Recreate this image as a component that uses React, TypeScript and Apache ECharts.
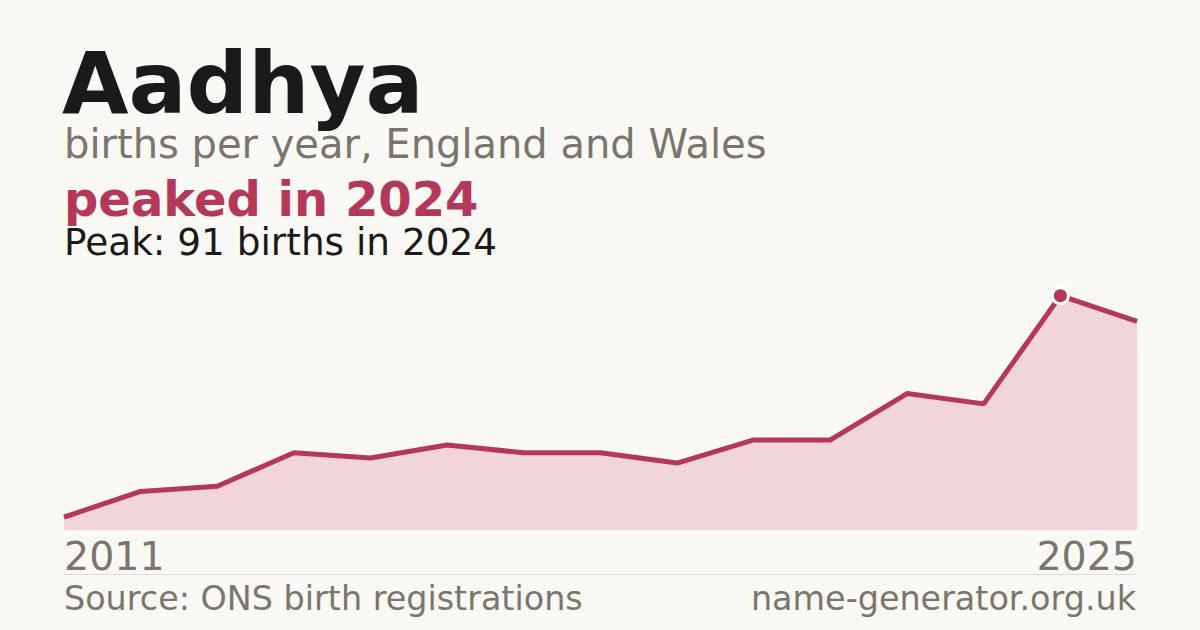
import React, { useEffect, useRef } from 'react';
import * as echarts from 'echarts';

const years = ['2011', '2012', '2013', '2014', '2015', '2016', '2017', '2018', '2019', '2020', '2021', '2022', '2023', '2024', '2025'];
const births = [5, 15, 17, 30, 28, 33, 30, 30, 26, 35, 35, 53, 49, 91, 81];

const FONT = '"DejaVu Sans", sans-serif';
const ACCENT = '#b3385a';
const MUTED = '#7a756f';

const App: React.FC = () => {
  const chartRef = useRef<HTMLDivElement>(null);

  useEffect(() => {
    document.body.style.margin = '0';
    if (!chartRef.current) return;

    const chart = echarts.init(chartRef.current, undefined, { renderer: 'svg' });

    const peakValue = Math.max(...births);
    const peakIndex = births.indexOf(peakValue);
    const lastIndex = years.length - 1;

    const option: echarts.EChartsOption = {
      animation: false,
      backgroundColor: '#faf9f5',
      grid: {
        left: 64,
        right: 63,
        top: 270,
        bottom: 100,
      },
      xAxis: {
        type: 'category',
        boundaryGap: false,
        data: years,
        axisLine: { show: false },
        axisTick: { show: false },
        splitLine: { show: false },
        axisLabel: {
          interval: (index: number) => index === 0 || index === lastIndex,
          showMinLabel: true,
          showMaxLabel: true,
          alignMinLabel: 'left',
          alignMaxLabel: 'right',
          margin: 6,
          fontFamily: FONT,
          fontSize: 39.5,
          color: MUTED,
        },
      },
      yAxis: {
        type: 'value',
        min: 0,
        max: 101,
        show: false,
      },
      graphic: [
        {
          type: 'text',
          left: 62,
          top: 40,
          style: { text: 'Aadhya', font: `bold 86px ${FONT}`, fill: '#1a1a1a' },
        },
        {
          type: 'text',
          left: 64,
          top: 124,
          style: { text: 'births per year, England and Wales', font: `40px ${FONT}`, fill: MUTED },
        },
        {
          type: 'text',
          left: 64,
          top: 175,
          style: { text: `peaked in ${years[peakIndex]}`, font: `bold 48px ${FONT}`, fill: ACCENT },
        },
        {
          type: 'text',
          left: 64,
          top: 223,
          style: { text: `Peak: ${peakValue} births in ${years[peakIndex]}`, font: `37.4px ${FONT}`, fill: '#1a1a1a' },
        },
        {
          type: 'line',
          shape: { x1: 64, y1: 574.5, x2: 1137, y2: 574.5 },
          style: { stroke: '#dddad4', lineWidth: 1 },
        },
        {
          type: 'text',
          left: 64,
          top: 582,
          style: { text: 'Source: ONS birth registrations', font: `33.4px ${FONT}`, fill: MUTED },
        },
        {
          type: 'text',
          right: 64,
          top: 582,
          style: { text: 'name-generator.org.uk', font: `33.4px ${FONT}`, fill: MUTED },
        },
      ],
      series: [
        {
          type: 'line',
          data: births,
          symbol: 'none',
          lineStyle: { color: ACCENT, width: 5 },
          areaStyle: { color: '#f1d5da', opacity: 1 },
          z: 2,
        },
        {
          type: 'scatter',
          data: [[years[peakIndex], peakValue]],
          symbol: 'circle',
          symbolSize: 16,
          itemStyle: { color: ACCENT, opacity: 1, borderColor: '#ffffff', borderWidth: 3 },
          z: 3,
        },
      ],
    };

    chart.setOption(option);

    return () => {
      chart.dispose();
    };
  }, []);

  return <div ref={chartRef} style={{ width: '1200px', height: '630px' }} />;
};

export default App;
